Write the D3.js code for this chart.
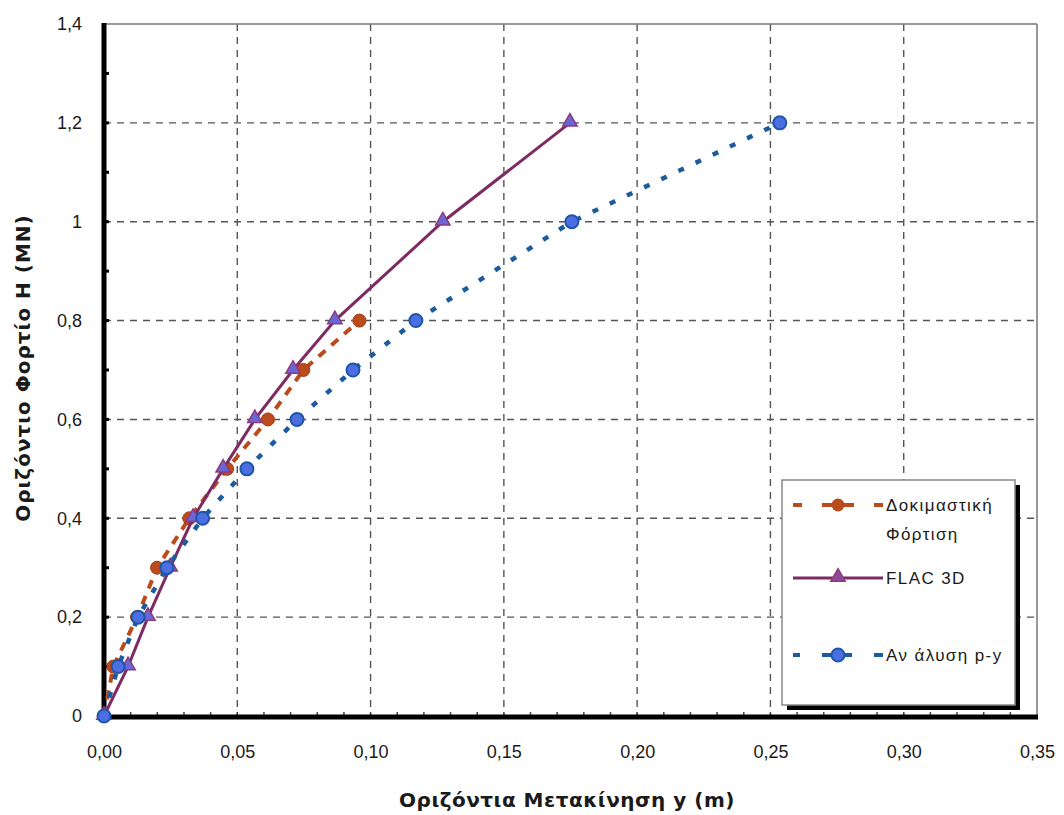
<!DOCTYPE html>
<html>
<head>
<meta charset="utf-8">
<script src="https://cdnjs.cloudflare.com/ajax/libs/d3/7.8.5/d3.min.js"></script>
<style>
  body { margin: 0; background: #fff; }
  svg { display: block; }
  text { font-family: "Liberation Sans", Arial, sans-serif; fill: #1a1a1a; }
</style>
</head>
<body>
<svg id="chart" width="1064" height="815"></svg>
<script>
// data (load H in MN, displacement y in m)
var testLoad = [0, 0.1, 0.2, 0.3, 0.4, 0.5, 0.6, 0.7, 0.8];
var testDisp = [0, 0.0035, 0.0124, 0.0199, 0.0320, 0.0462, 0.0615, 0.0748, 0.0958];

var flacLoad = [0, 0.1, 0.2, 0.3, 0.4, 0.5, 0.6, 0.7, 0.8, 1.0, 1.2];
var flacDisp = [0, 0.0090, 0.0165, 0.0248, 0.0334, 0.0447, 0.0566, 0.0709, 0.0866, 0.1271, 0.1748];

var pyLoad = [0, 0.1, 0.2, 0.3, 0.4, 0.5, 0.6, 0.7, 0.8, 1.0, 1.2];
var pyDisp = [0, 0.0053, 0.0128, 0.0236, 0.0370, 0.0536, 0.0724, 0.0934, 0.1170, 0.1755, 0.2535];

var xTicks = [0, 0.05, 0.10, 0.15, 0.20, 0.25, 0.30, 0.35];
var xTickLabels = ["0,00", "0,05", "0,10", "0,15", "0,20", "0,25", "0,30", "0,35"];
var yTicks = [0, 0.2, 0.4, 0.6, 0.8, 1.0, 1.2, 1.4];
var yTickLabels = ["0", "0,2", "0,4", "0,6", "0,8", "1", "1,2", "1,4"];

var seriesNames = ["Δοκιμαστική", "FLAC 3D", "Αν άλυση p-y"];

var svg = d3.select("#chart");

var x = d3.scaleLinear().domain([0, 0.35]).range([104, 1037]);
var y = d3.scaleLinear().domain([0, 1.4]).range([716, 24]);

var gridColor = "#555";

//--------------------------------- grid ---------------------------------//
svg.append("g").selectAll("line")
    .data(xTicks.slice(1, -1))
    .join("line")
    .attr("x1", d => x(d)).attr("x2", d => x(d))
    .attr("y1", y(1.4)).attr("y2", y(0))
    .attr("stroke", gridColor).attr("stroke-width", 1.4)
    .attr("stroke-dasharray", "7,6");

svg.append("g").selectAll("line")
    .data(yTicks.slice(1, -1))
    .join("line")
    .attr("x1", x(0)).attr("x2", x(0.35))
    .attr("y1", d => y(d)).attr("y2", d => y(d))
    .attr("stroke", gridColor).attr("stroke-width", 1.4)
    .attr("stroke-dasharray", "7,6");

// thin frame top and right
svg.append("line")
    .attr("x1", x(0)).attr("x2", x(0.35)).attr("y1", y(1.4)).attr("y2", y(1.4))
    .attr("stroke", "#777").attr("stroke-width", 1.5);
svg.append("line")
    .attr("x1", x(0.35)).attr("x2", x(0.35)).attr("y1", y(1.4)).attr("y2", y(0))
    .attr("stroke", "#777").attr("stroke-width", 1.5);

//--------------------------------- axes ---------------------------------//
// minor ticks on the x axis (every 0.01)
svg.append("g").selectAll("line")
    .data(d3.range(1, 35).map(i => i / 100))
    .join("line")
    .attr("x1", d => x(d)).attr("x2", d => x(d))
    .attr("y1", y(0) - 4).attr("y2", y(0))
    .attr("stroke", "#444").attr("stroke-width", 1.5);

// minor ticks on the y axis (every 0.1)
svg.append("g").selectAll("line")
    .data(d3.range(1, 14).map(i => i / 10))
    .join("line")
    .attr("x1", x(0)).attr("x2", x(0) + 5)
    .attr("y1", d => y(d)).attr("y2", d => y(d))
    .attr("stroke", "#000").attr("stroke-width", 3);

svg.append("line")
    .attr("x1", x(0)).attr("x2", x(0)).attr("y1", y(1.4) - 1).attr("y2", y(0) + 2)
    .attr("stroke", "#000").attr("stroke-width", 5);
svg.append("line")
    .attr("x1", x(0) - 2).attr("x2", x(0.35) + 1).attr("y1", y(0) + 1).attr("y2", y(0) + 1)
    .attr("stroke", "#000").attr("stroke-width", 5);

var xAxis = d3.axisBottom(x).tickValues(xTicks).tickSize(0)
    .tickFormat((d, i) => xTickLabels[i]);
svg.append("g").attr("transform", "translate(0," + (y(0) + 26) + ")")
    .call(xAxis)
    .call(g => g.select(".domain").remove())
    .selectAll("text")
    .style("font-family", "'Liberation Sans', Arial, sans-serif")
    .style("font-size", "18px").attr("fill", "#1a1a1a");

var yAxis = d3.axisLeft(y).tickValues(yTicks).tickSize(0)
    .tickFormat((d, i) => yTickLabels[i]);
svg.append("g").attr("transform", "translate(" + (x(0) - 19) + ",0)")
    .call(yAxis)
    .call(g => g.select(".domain").remove())
    .selectAll("text")
    .style("font-family", "'Liberation Sans', Arial, sans-serif")
    .style("font-size", "18px").attr("fill", "#1a1a1a");

// axis titles
svg.append("text")
    .attr("x", 567).attr("y", 807)
    .attr("text-anchor", "middle")
    .style("font-family", "'DejaVu Sans', sans-serif")
    .style("font-size", "20px").style("font-weight", "bold")
    .style("letter-spacing", "0.5px")
    .text("Οριζόντια Μετακίνηση y (m)");

svg.append("text")
    .attr("transform", "translate(30,368) rotate(-90)")
    .attr("text-anchor", "middle")
    .style("font-family", "'DejaVu Sans', sans-serif")
    .style("font-size", "20px").style("font-weight", "bold")
    .style("letter-spacing", "1px")
    .text("Οριζόντιο Φορτίο Η (ΜΝ)");

//--------------------------------- series ---------------------------------//
var line = d3.line().x(d => x(d[0])).y(d => y(d[1]));

var testPts = d3.zip(testDisp, testLoad);
var flacPts = d3.zip(flacDisp, flacLoad);
var pyPts = d3.zip(pyDisp, pyLoad);

var testColor = "#bb4a1c", flacColor = "#7e2a63", pyColor = "#1c5b9c";
var triangle = d3.symbol().type(d3.symbolTriangle).size(90);

function drawTest(g, pts) {
    g.append("path").datum(pts).attr("d", line)
        .attr("fill", "none").attr("stroke", testColor).attr("stroke-width", 4)
        .attr("stroke-dasharray", "9,8");
    g.selectAll("circle.t").data(pts).join("circle").attr("class", "t")
        .attr("cx", d => x(d[0])).attr("cy", d => y(d[1])).attr("r", 6.5)
        .attr("fill", testColor).attr("stroke", "#a33d14").attr("stroke-width", 1);
}
function drawFlac(g, pts) {
    g.append("path").datum(pts).attr("d", line)
        .attr("fill", "none").attr("stroke", flacColor).attr("stroke-width", 3);
    g.selectAll("path.m").data(pts).join("path").attr("class", "m")
        .attr("transform", d => "translate(" + x(d[0]) + "," + (y(d[1]) - 1) + ")")
        .attr("d", triangle)
        .attr("fill", "#6a66d8").attr("stroke", "#8e3a7c").attr("stroke-width", 1.5);
}
function drawPy(g, pts) {
    g.append("path").datum(pts).attr("d", line)
        .attr("fill", "none").attr("stroke", pyColor).attr("stroke-width", 4.5)
        .attr("stroke-dasharray", "6,13");
    g.selectAll("circle.p").data(pts).join("circle").attr("class", "p")
        .attr("cx", d => x(d[0])).attr("cy", d => y(d[1])).attr("r", 6.5)
        .attr("fill", "#4b6fe2").attr("stroke", "#1f56a8").attr("stroke-width", 2);
}

drawTest(svg.append("g"), testPts);
drawFlac(svg.append("g"), flacPts);
drawPy(svg.append("g"), pyPts);

//--------------------------------- legend ---------------------------------//
var lg = svg.append("g");
lg.append("rect").attr("x", 787).attr("y", 485).attr("width", 233).attr("height", 225)
    .attr("fill", "#000");
lg.append("rect").attr("x", 782).attr("y", 480).attr("width", 233).attr("height", 225)
    .attr("fill", "#fff").attr("stroke", "#888").attr("stroke-width", 1.5);

var sx = d3.scaleLinear().domain([0, 1]).range([793, 883]);
var legendRows = [505, 578, 655];

var lt = lg.append("g");
lt.append("line").attr("x1", sx(0)).attr("x2", sx(1)).attr("y1", legendRows[0]).attr("y2", legendRows[0])
    .attr("stroke", testColor).attr("stroke-width", 4).attr("stroke-dasharray", "9,20,10,12,10,20,10");
lt.append("circle").attr("cx", sx(0.5)).attr("cy", legendRows[0]).attr("r", 6.5).attr("fill", testColor);

var lf = lg.append("g");
lf.append("line").attr("x1", sx(0)).attr("x2", sx(1)).attr("y1", legendRows[1]).attr("y2", legendRows[1])
    .attr("stroke", flacColor).attr("stroke-width", 3);
lf.append("path").attr("transform", "translate(" + sx(0.5) + "," + (legendRows[1] - 1) + ")")
    .attr("d", triangle).attr("fill", "#8e4a9a").attr("stroke", "#8e3a7c").attr("stroke-width", 1.5);

var lp = lg.append("g");
lp.append("line").attr("x1", sx(0)).attr("x2", sx(1)).attr("y1", legendRows[2]).attr("y2", legendRows[2])
    .attr("stroke", pyColor).attr("stroke-width", 4).attr("stroke-dasharray", "7,22,9,12,9,22,10");
lp.append("circle").attr("cx", sx(0.5)).attr("cy", legendRows[2]).attr("r", 6.5)
    .attr("fill", "#4b6fe2").attr("stroke", "#1f56a8").attr("stroke-width", 2);

var ltext = [
    { t: seriesNames[0], y: legendRows[0] },
    { t: "Φόρτιση", y: legendRows[0] + 29 },
    { t: seriesNames[1], y: legendRows[1] },
    { t: seriesNames[2], y: legendRows[2] }
];
lg.selectAll("text.l").data(ltext).join("text").attr("class", "l")
    .attr("x", 886).attr("y", d => d.y + 6)
    .style("font-size", "17px").style("letter-spacing", "1.4px")
    .text(d => d.t);
</script>
</body>
</html>
